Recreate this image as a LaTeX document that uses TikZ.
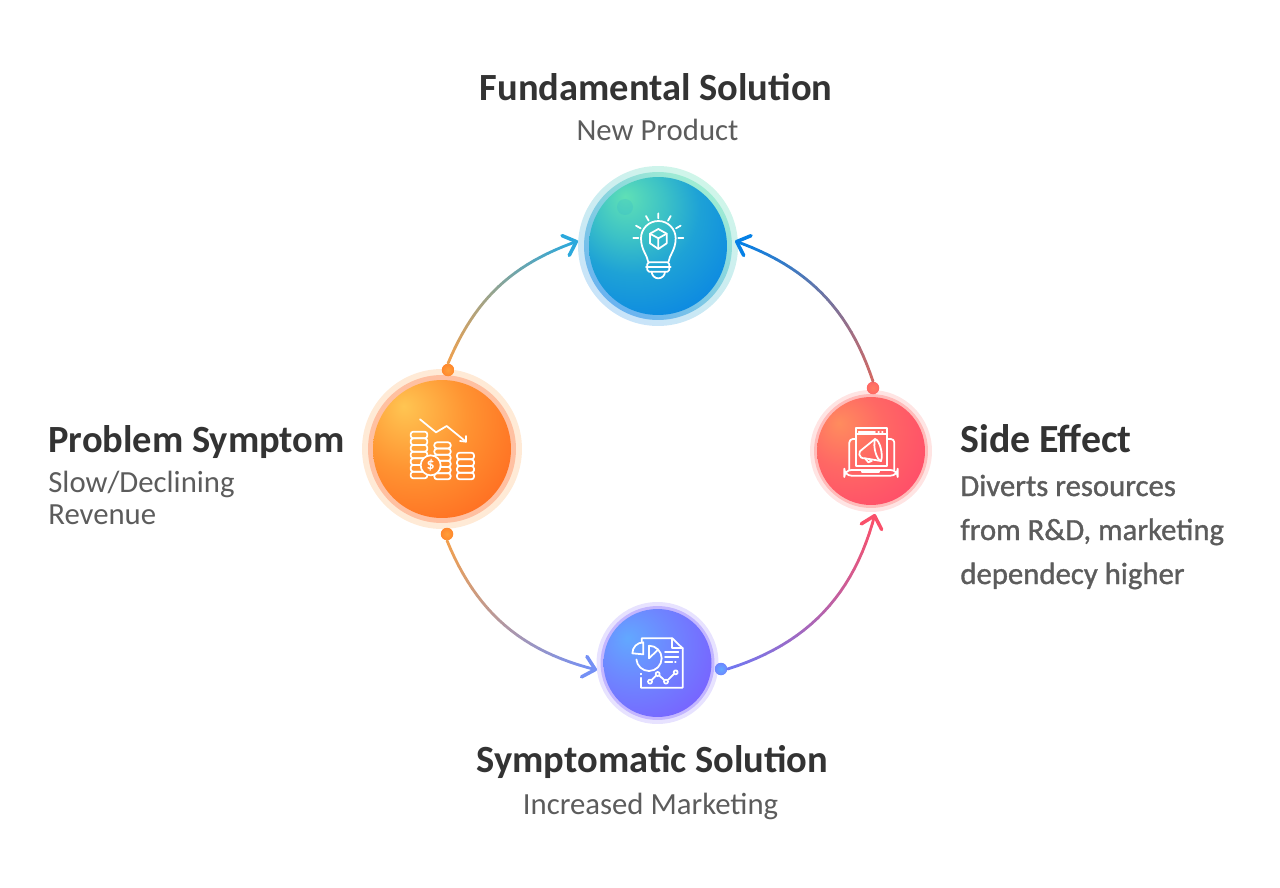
\documentclass[tikz,border=0pt]{standalone}
\usepackage{fontspec}
\setmainfont{Carlito}
\newfontfamily\semifont[FakeBold=1.1]{Carlito}
\usetikzlibrary{arrows.meta, calc}

% Colores de los circulos
\definecolor{tealA}{HTML}{5FE0B6}
\definecolor{tealB}{HTML}{3CC2C6}
\definecolor{tealC}{HTML}{1EA2D6}
\definecolor{tealD}{HTML}{0680E6}
\definecolor{orangeA}{HTML}{FFC552}
\definecolor{orangeB}{HTML}{FF9432}
\definecolor{orangeC}{HTML}{FF6A20}
\definecolor{redA}{HTML}{FF8C5E}
\definecolor{redB}{HTML}{FF6864}
\definecolor{redC}{HTML}{FF4A6A}
\definecolor{violetA}{HTML}{62A8FF}
\definecolor{violetB}{HTML}{6E86FF}
\definecolor{violetC}{HTML}{7A5CFF}
\definecolor{titlegray}{HTML}{333333}
\definecolor{subgray}{HTML}{5C5C5C}
% Colores de las flechas
\definecolor{arcOrange}{HTML}{F5A04A}
\definecolor{arcTeal}{HTML}{2BA8DC}
\definecolor{arcRed}{HTML}{D9685F}
\definecolor{arcBlue}{HTML}{0480E6}
\definecolor{arcViolet}{HTML}{7490F5}
\definecolor{arcIndigo}{HTML}{6C78F5}
\definecolor{arcPink}{HTML}{F9506A}

\pgfdeclareradialshading{hubteal}{\pgfpoint{-12bp}{18bp}}{color(0bp)=(tealA); color(13bp)=(tealB); color(24bp)=(tealC); color(45bp)=(tealD); color(100bp)=(tealD)}
\pgfdeclareradialshading{huborange}{\pgfpoint{-14bp}{15.6bp}}{color(0bp)=(orangeA); color(20bp)=(orangeB); color(42bp)=(orangeC); color(100bp)=(orangeC)}
\pgfdeclareradialshading{hubred}{\pgfpoint{-15bp}{13bp}}{color(0bp)=(redA); color(18bp)=(redB); color(42bp)=(redC); color(100bp)=(redC)}
\pgfdeclareradialshading{hubviolet}{\pgfpoint{-14bp}{11.6bp}}{color(0bp)=(violetA); color(18bp)=(violetB); color(42bp)=(violetC); color(100bp)=(violetC)}

% Arco con degradado: origen, destino, lado, angulo, color inicial, color final
\newcommand{\gradarc}[6]{%
    \foreach \i in {0,...,24}{
        \path (#1) to[bend #3=#4] coordinate[pos=\i/24] (seg\i) (#2);
    }
    \foreach \i [remember=\i as \prev (initially 0)] in {1,...,23}{
        \pgfmathsetmacro\mix{100*\i/24}
        \draw[arcline, color=#6!\mix!#5] (seg\prev) -- (seg\i);
    }
    \draw[arcline, color=#6, -{Straight Barb[length=6.5pt,width=12pt,line width=2pt,round]}] (seg23) -- (#2);
}

\begin{document}
\begin{tikzpicture}[
        x=0.02cm, y=-0.02cm,
        % Estilo general para los circulos
        hub/.style={
            circle,
            inner sep=0pt,
            minimum size=#1
        },
        % Punto de salida de cada flecha
        dotstart/.style={
            circle,
            inner sep=0pt,
            minimum size=0.25cm
        },
        % Estilo para los arcos
        arcline/.style={
            line width=1.6pt,
            line cap=round
        },
        % Estilo para los iconos
        icon/.style={
            draw=white,
            line width=1pt,
            line cap=round,
            line join=round
        },
        % Estilo para las etiquetas
        titlelabel/.style={
            font=\fontsize{21.9}{25}\selectfont\bfseries,
            text=titlegray,
            inner sep=0pt
        },
        sublabel/.style={
            font=\fontsize{17.5}{20}\selectfont,
            text=subgray,
            inner sep=0pt
        },
        sidelabel/.style={
            font=\fontsize{17.5}{20}\selectfont\semifont,
            text=subgray,
            inner sep=0pt
        }
    ]

        \useasboundingbox (0,0) rectangle (1280,888);

        % Circulo superior
        \node[hub=3.2cm, top color=tealA!30!white, bottom color=tealD!22!white, shading angle=-35] (topHalo) at (658,246) {};
        \node[hub=2.96cm, top color=tealA!60!white, bottom color=tealD!60!white, shading angle=-35] (topRing) at (658,246) {};
        \node[hub=2.76cm, shading=hubteal] (topCore) at (658,246) {};

        % Circulo izquierdo
        \node[hub=3.2cm, fill=orangeB!20!white] (leftHalo) at (442,449) {};
        \node[hub=2.96cm, fill=orangeC!42!white] (leftRing) at (442,449) {};
        \node[hub=2.76cm, shading=huborange] (leftCore) at (442,449) {};

        % Circulo derecho
        \node[hub=2.44cm, fill=redB!18!white] (rightHalo) at (871,451) {};
        \node[hub=2.28cm, fill=redB!45!white] (rightRing) at (871,451) {};
        \node[hub=2.16cm, shading=hubred] (rightCore) at (871,451) {};

        % Circulo inferior
        \node[hub=2.44cm, fill=violetC!18!white] (bottomHalo) at (657.5,663) {};
        \node[hub=2.28cm, fill=violetC!45!white] (bottomRing) at (657.5,663) {};
        \node[hub=2.16cm, shading=hubviolet] (bottomCore) at (657.5,663) {};

        % --- PUNTOS Y FLECHAS ---
        \node[dotstart, inner color=orangeB!80!orangeA, outer color=orangeB!70!orangeC] (dotLeftUp) at (448,370) {};
        \node[dotstart, inner color=orangeB!80!orangeA, outer color=orangeB!70!orangeC] (dotLeftDown) at (447,534) {};
        \node[dotstart, inner color=redA!50!redB, outer color=redB] (dotRight) at (873,388) {};
        \node[dotstart, inner color=violetA, outer color=violetB] (dotBottom) at (721,669) {};

        \coordinate (tipTopLeft) at (578,241);
        \coordinate (tipTopRight) at (735,241);
        \coordinate (tipBottom) at (597,670);
        \coordinate (tipRight) at (875,514);

        \gradarc{dotLeftUp.north}{tipTopLeft}{left}{24}{arcOrange}{arcTeal}
        \gradarc{dotRight.north}{tipTopRight}{right}{26}{arcRed}{arcBlue}
        \gradarc{dotLeftDown.south}{tipBottom}{right}{27}{arcOrange}{arcViolet}
        \gradarc{dotBottom.east}{tipRight}{right}{29}{arcIndigo}{arcPink}

        % --- ICONOS ---
        % Bombilla
        \fill[tealC!60!tealB, opacity=0.2] (625,207) circle (8);
        \begin{scope}[shift={(570,155)}, scale=1/3]
            \draw[icon] (235,322) .. controls (232,300) and (213,285) .. (213,250)
                arc[start angle=180, end angle=360, radius=52]
                .. controls (317,285) and (298,300) .. (295,322);
            \draw[icon, rounded corners=1pt] (232,322) -- (298,322) -- (298,350) -- (232,350) -- cycle;
            \draw[icon] (228,335) -- (302,335);
            \draw[icon] (245,350) arc[start angle=180, end angle=0, radius=20];
            \draw[icon] (265,222) -- (290,236) -- (290,265) -- (265,282) -- (240,265) -- (240,236) -- cycle;
            \draw[icon] (240,236) -- (265,250) -- (290,236) (265,250) -- (265,282);
            \draw[icon] (265,175) -- (265,190) (228,183) -- (236,197) (302,183) -- (294,197);
            \draw[icon] (198,212) -- (212,220) (332,212) -- (318,220);
            \draw[icon] (190,250) -- (205,250) (325,250) -- (340,250);
        \end{scope}

        % Monedas
        \begin{scope}[shift={(355,360)}, scale=1/3]
            \draw[icon] (195,178) -- (243,217) -- (275,198) -- (333,245);
            \draw[icon] (315,243) -- (333,245) -- (333,228);
            \foreach \k in {0,...,6}{
                \draw[icon, rounded corners=1.5pt] (167,215+20*\k) rectangle (217,235+20*\k);
            }
            \foreach \k in {0,...,5}{
                \draw[icon, rounded corners=1.5pt] (238,247+18.5*\k) rectangle (287,265.5+18.5*\k);
            }
            \foreach \k in {0,...,3}{
                \draw[icon, rounded corners=1.5pt] (306,278+20*\k) rectangle (357,298+20*\k);
            }
            \node[circle, draw=white, line width=1pt, fill=orangeB!80!orangeC, minimum size=0.4cm, inner sep=0pt,
                text=white, font=\fontsize{9}{9}\selectfont\bfseries] (coinFront) at (227,316) {\$};
        \end{scope}

        % Portatil con megafono
        \begin{scope}[shift={(800,375)}, scale=1/3]
            \draw[icon] (167,160) rectangle (262,272);
            \draw[icon] (167,178) -- (262,178);
            \draw[icon] (176,170) -- (225,170) (235,170) -- (237,170) (246,170) -- (248,170);
            \draw[icon, rounded corners=2pt] (167,192) -- (148,192) -- (148,285);
            \draw[icon, rounded corners=2pt] (262,192) -- (283,192) -- (283,285);
            \draw[icon, rounded corners=4pt] (133,285) -- (293,285) -- (293,302) -- (133,302) -- cycle;
            \draw[icon] (187,285) -- (187,292) -- (237,292) -- (237,285);
            \draw[icon] (225,192) .. controls (240,195) and (250,240) .. (243,258)
                .. controls (230,255) and (218,215) .. (225,192);
            \draw[icon] (225,192) -- (188,222) .. controls (172,228) and (175,252) .. (195,250) -- (243,258);
            \draw[icon] (195,250) -- (205,262) -- (215,258) -- (208,252);
        \end{scope}

        % Documento con graficas
        \begin{scope}[shift={(585,595)}, scale=1/3]
            \draw[icon] (168,248) -- (168,278) -- (293,278) -- (293,160) -- (262,130) -- (170,130) -- (170,142);
            \draw[icon] (262,130) -- (262,160) -- (293,160);
            \draw[icon] (168,236) -- (168,238);
            \draw[icon] (175,178) -- (175,142) arc[start angle=270, end angle=180, radius=33] -- cycle;
            \draw[icon] (192,152) -- (192,190) -- (218,165);
            \draw[icon] (192,152) arc[start angle=270, end angle=535, radius=38];
            \draw[icon] (240,170) -- (280,170) (240,185) -- (280,185) (240,200) -- (262,200) (270,200) -- (272,200);
            \draw[icon] (195,260) -- (218,237) -- (243,260) -- (272,232);
            \foreach \px/\py in {195/260, 218/237, 243/260, 272/232}{
                \fill[violetB] (\px,\py) circle (6);
                \draw[icon] (\px,\py) circle (6);
            }
        \end{scope}

        % --- ETIQUETAS ---
        \node[titlelabel, anchor=base] (topTitle) at (656,101) {Fundamental Solution};
        \node[sublabel, anchor=base] (topSub) at (657.5,141) {New Product};

        \node[titlelabel, anchor=base west] (leftTitle) at (48,452) {Problem Symptom};
        \node[sublabel, anchor=base west] (leftSubA) at (48,492) {Slow/Declining};
        \node[sublabel, anchor=base west] (leftSubB) at (48,524) {Revenue};

        \node[titlelabel, font=\fontsize{22.7}{25}\selectfont\bfseries, anchor=base west] (rightTitle) at (960,452) {Side Effect};
        \node[sidelabel, anchor=base west] (rightSubA) at (960,496) {Diverts resources};
        \node[sidelabel, anchor=base west] (rightSubB) at (960,540) {from R\&D, marketing};
        \node[sidelabel, anchor=base west] (rightSubC) at (960,584) {dependecy higher};

        \node[titlelabel, anchor=base] (bottomTitle) at (652.5,772) {Symptomatic Solution};
        \node[sublabel, anchor=base] (bottomSub) at (650.5,814) {Increased Marketing};

    \end{tikzpicture}
\end{document}
